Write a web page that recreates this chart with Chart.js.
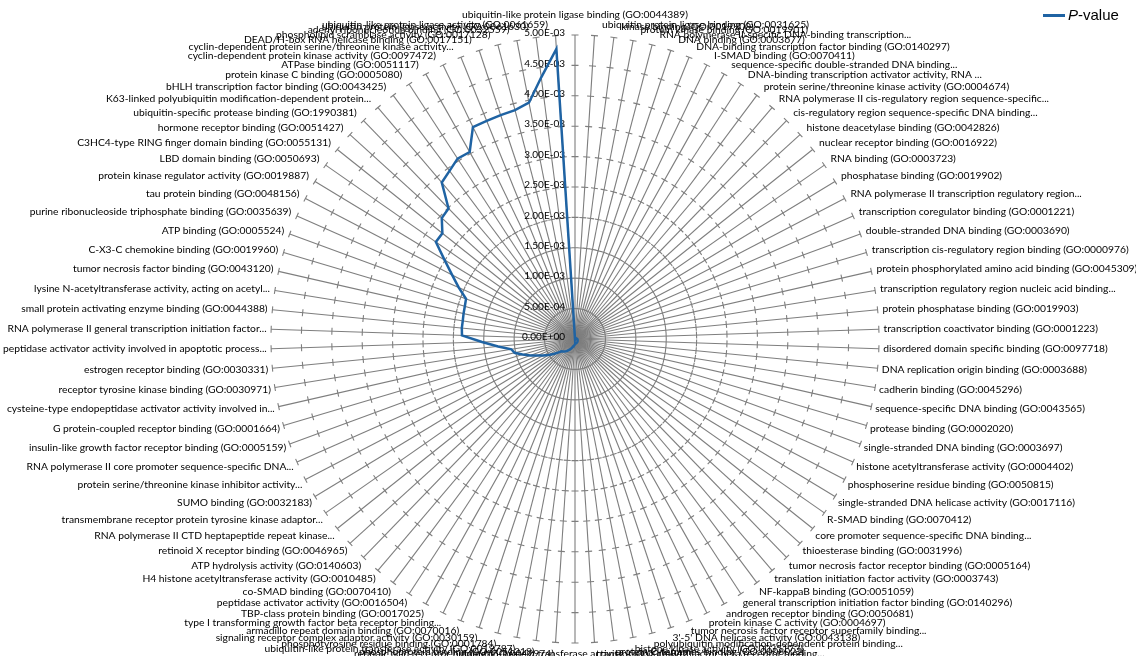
<!DOCTYPE html>
<html>
<head>
<meta charset="utf-8">
<script src="https://cdn.jsdelivr.net/npm/chart.js@4/dist/chart.umd.min.js"></script>
<style>
  html, body { margin: 0; padding: 0; background: #ffffff; }
  #wrap { position: relative; width: 1136px; height: 656px; overflow: hidden; }
  #c { position: absolute; left: 0; top: 0; }
  #legend { position: absolute; left: 1043px; top: 6px; display: flex; align-items: center;
            font: 15px "Liberation Sans", Arial, sans-serif; color: #000; line-height: 18px; }
  #legend .swatch { display: inline-block; width: 22px; height: 3px; background: #1f63a3; margin-right: 3px; }
</style>
</head>
<body>
<div id="wrap">
  <canvas id="c" width="1136" height="656"></canvas>
  <div id="legend"><span class="swatch"></span><span><i>P</i>-value</span></div>
</div>
<script>
// GO molecular-function terms, clockwise from the top spoke
const categories = [
  "ubiquitin-like protein ligase binding (GO:0044389)",
  "ubiquitin protein ligase binding (GO:0031625)",
  "kinase binding (GO:0019900)",
  "protein kinase binding (GO:0019901)",
  "RNA polymerase II-specific DNA-binding transcription...",
  "DNA binding (GO:0003677)",
  "DNA-binding transcription factor binding (GO:0140297)",
  "I-SMAD binding (GO:0070411)",
  "sequence-specific double-stranded DNA binding...",
  "DNA-binding transcription activator activity, RNA ...",
  "protein serine/threonine kinase activity (GO:0004674)",
  "RNA polymerase II cis-regulatory region sequence-specific...",
  "cis-regulatory region sequence-specific DNA binding...",
  "histone deacetylase binding (GO:0042826)",
  "nuclear receptor binding (GO:0016922)",
  "RNA binding (GO:0003723)",
  "phosphatase binding (GO:0019902)",
  "RNA polymerase II transcription regulatory region...",
  "transcription coregulator binding (GO:0001221)",
  "double-stranded DNA binding (GO:0003690)",
  "transcription cis-regulatory region binding (GO:0000976)",
  "protein phosphorylated amino acid binding (GO:0045309)",
  "transcription regulatory region nucleic acid binding...",
  "protein phosphatase binding (GO:0019903)",
  "transcription coactivator binding (GO:0001223)",
  "disordered domain specific binding (GO:0097718)",
  "DNA replication origin binding (GO:0003688)",
  "cadherin binding (GO:0045296)",
  "sequence-specific DNA binding (GO:0043565)",
  "protease binding (GO:0002020)",
  "single-stranded DNA binding (GO:0003697)",
  "histone acetyltransferase activity (GO:0004402)",
  "phosphoserine residue binding (GO:0050815)",
  "single-stranded DNA helicase activity (GO:0017116)",
  "R-SMAD binding (GO:0070412)",
  "core promoter sequence-specific DNA binding...",
  "thioesterase binding (GO:0031996)",
  "tumor necrosis factor receptor binding (GO:0005164)",
  "translation initiation factor activity (GO:0003743)",
  "NF-kappaB binding (GO:0051059)",
  "general transcription initiation factor binding (GO:0140296)",
  "androgen receptor binding (GO:0050681)",
  "protein kinase C activity (GO:0004697)",
  "tumor necrosis factor receptor superfamily binding...",
  "3'-5' DNA helicase activity (GO:0043138)",
  "polyubiquitin modification-dependent protein binding...",
  "histone kinase activity (GO:0035173)",
  "protein C-terminus binding (GO:0008022)",
  "transforming growth factor beta receptor binding...",
  "ubiquitin-protein transferase activity (GO:0004842)",
  "retinoic acid receptor binding (GO:0042974)",
  "phosphoprotein binding (GO:0051219)",
  "ubiquitin-like protein transferase activity (GO:0019787)",
  "phosphotyrosine residue binding (GO:0001784)",
  "signaling receptor complex adaptor activity (GO:0030159)",
  "armadillo repeat domain binding (GO:0070016)",
  "type I transforming growth factor beta receptor binding...",
  "TBP-class protein binding (GO:0017025)",
  "peptidase activator activity (GO:0016504)",
  "co-SMAD binding (GO:0070410)",
  "H4 histone acetyltransferase activity (GO:0010485)",
  "ATP hydrolysis activity (GO:0140603)",
  "retinoid X receptor binding (GO:0046965)",
  "RNA polymerase II CTD heptapeptide repeat kinase...",
  "transmembrane receptor protein tyrosine kinase adaptor...",
  "SUMO binding (GO:0032183)",
  "protein serine/threonine kinase inhibitor activity...",
  "RNA polymerase II core promoter sequence-specific DNA...",
  "insulin-like growth factor receptor binding (GO:0005159)",
  "G protein-coupled receptor binding (GO:0001664)",
  "cysteine-type endopeptidase activator activity involved in...",
  "receptor tyrosine kinase binding (GO:0030971)",
  "estrogen receptor binding (GO:0030331)",
  "peptidase activator activity involved in apoptotic process...",
  "RNA polymerase II general transcription initiation factor...",
  "small protein activating enzyme binding (GO:0044388)",
  "lysine N-acetyltransferase activity, acting on acetyl...",
  "tumor necrosis factor binding (GO:0043120)",
  "C-X3-C chemokine binding (GO:0019960)",
  "ATP binding (GO:0005524)",
  "purine ribonucleoside triphosphate binding (GO:0035639)",
  "tau protein binding (GO:0048156)",
  "protein kinase regulator activity (GO:0019887)",
  "LBD domain binding (GO:0050693)",
  "C3HC4-type RING finger domain binding (GO:0055131)",
  "hormone receptor binding (GO:0051427)",
  "ubiquitin-specific protease binding (GO:1990381)",
  "K63-linked polyubiquitin modification-dependent protein...",
  "bHLH transcription factor binding (GO:0043425)",
  "protein kinase C binding (GO:0005080)",
  "ATPase binding (GO:0051117)",
  "cyclin-dependent protein kinase activity (GO:0097472)",
  "cyclin-dependent protein serine/threonine kinase activity...",
  "DEAD/H-box RNA helicase binding (GO:0017151)",
  "phospholipid scramblase activity (GO:0017128)",
  "adenyl ribonucleotide binding (GO:0032559)",
  "ubiquitin protein ligase activity (GO:0061630)",
  "ubiquitin-like protein ligase activity (GO:0061659)"
];

// enrichment P-values, same order as the terms
const pValues = [
  0.0000010, 0.0000015, 0.0000020, 0.0000030, 0.0000040, 0.0000050, 0.0000060, 0.0000080, 0.0000090, 0.0000110,
  0.0000120, 0.0000140, 0.0000150, 0.0000170, 0.0000180, 0.0000200, 0.0000220, 0.0000230, 0.0000250, 0.0000270,
  0.0000280, 0.0000300, 0.0000320, 0.0000330, 0.0000350, 0.0000370, 0.0000380, 0.0000400, 0.0000420, 0.0000440,
  0.0000450, 0.0000470, 0.0000490, 0.0000510, 0.0000530, 0.0000540, 0.0000560, 0.0000580, 0.0000600, 0.0000620,
  0.0000640, 0.0000660, 0.0000680, 0.0000700, 0.0000720, 0.0000740, 0.0000760, 0.0000780, 0.0000800, 0.0000850,
  0.0000950, 0.0001050, 0.0001150, 0.0001300, 0.0001500, 0.0001700, 0.0001900, 0.0002100, 0.0002300, 0.0002500,
  0.0002700, 0.0002850, 0.0003000, 0.0003600, 0.0004300, 0.0005100, 0.0005900, 0.0006700, 0.0007800, 0.0009000,
  0.0010200, 0.0010600, 0.0012700, 0.0015300, 0.0018600, 0.0018700, 0.0018700, 0.0018800, 0.0018900, 0.0019100,
  0.0020900, 0.0022800, 0.0025100, 0.0027900, 0.0027900, 0.0029600, 0.0029900, 0.0033800, 0.0034500, 0.0035400,
  0.0035300, 0.0038700, 0.0038700, 0.0038800, 0.0038900, 0.0039600, 0.0043400, 0.0047800
];

// radial axis: range, step and the printed tick labels
const axisMin = 0;
const axisMax = 0.005;
const axisStep = 0.0005;
const tickLabels = ["0.00E+00", "5.00E-04", "1.00E-03", "1.50E-03", "2.00E-03", "2.50E-03",
                    "3.00E-03", "3.50E-03", "4.00E-03", "4.50E-03", "5.00E-03"];

// ---- layout of the polar area ----
const CENTER_X = 575, CENTER_Y = 339, RADIUS = 304;
const LABEL_SIZE = 10.3;
const LABEL_LINE = LABEL_SIZE * 1.2;
const GRID_COLOR = '#7e7e7e';

// radial scale with a fixed centre and radius; category labels sit just outside the spoke ends
class FixedRadialScale extends Chart.RadialLinearScale {
  setCenterPoint() {
    this.xCenter = CENTER_X;
    this.yCenter = CENTER_Y;
    this.drawingArea = RADIUS;
  }
  fit() {
    super.fit();
    const items = this._pointLabelItems || [];
    items.forEach((it, i) => {
      const a = this.getIndexAngle(i);
      const c = Math.cos(a);
      const end = this.getPointPosition(i, this.drawingArea);
      const cy = i === 0 ? end.y - 20 : end.y - 11 * c;
      const gap = 4.5 + 3 * c;
      const w = it.right - it.left;
      let x = end.x;
      if (it.textAlign === 'left') x += gap;
      else if (it.textAlign === 'right') x -= gap;
      it.x = x;
      it.y = cy - LABEL_LINE / 2;
      it.top = it.y;
      it.bottom = it.y + LABEL_LINE;
      it.left = it.textAlign === 'left' ? x : (it.textAlign === 'right' ? x - w : x - w / 2);
      it.right = it.left + w;
    });
  }
}
FixedRadialScale.id = 'fixedRadial';
Chart.register(FixedRadialScale);

// short cross marks on every spoke at each major unit
const spokeTicks = {
  id: 'spokeTicks',
  beforeDatasetsDraw(chart) {
    const s = chart.scales.r;
    const ctx = chart.ctx;
    const n = chart.data.labels.length;
    ctx.save();
    ctx.strokeStyle = GRID_COLOR;
    ctx.lineWidth = 1.1;
    ctx.beginPath();
    s.ticks.forEach(t => {
      const d = s.getDistanceFromCenterForValue(t.value);
      if (d <= 0) return;
      for (let i = 0; i < n; i++) {
        const p = s.getPointPosition(i, d);
        const a = s.getIndexAngle(i) - Math.PI / 2;
        const px = -Math.sin(a), py = Math.cos(a);
        ctx.moveTo(p.x - px * 3.5, p.y - py * 3.5);
        ctx.lineTo(p.x + px * 3.5, p.y + py * 3.5);
      }
    });
    ctx.stroke();
    ctx.restore();
  }
};

// value labels along the vertical axis, including the one at the centre
const axisLabels = {
  id: 'axisLabels',
  beforeDatasetsDraw(chart) {
    const s = chart.scales.r;
    const ctx = chart.ctx;
    ctx.save();
    ctx.font = '10px Lato, "Liberation Sans", sans-serif';
    ctx.fillStyle = '#000';
    ctx.textAlign = 'right';
    ctx.textBaseline = 'middle';
    s.ticks.forEach((t, i) => {
      const d = s.getDistanceFromCenterForValue(t.value);
      ctx.fillText(tickLabels[i], s.xCenter - 10, s.yCenter - d - 2);
    });
    ctx.restore();
  }
};

new Chart(document.getElementById('c'), {
  type: 'radar',
  data: {
    labels: categories,
    datasets: [{
      label: 'P-value',
      data: pValues,
      borderColor: '#1f63a3',
      backgroundColor: 'rgba(0,0,0,0)',
      borderWidth: 2.5,
      pointRadius: 0,
      fill: false,
      tension: 0
    }]
  },
  options: {
    responsive: false,
    animation: false,
    devicePixelRatio: 1,
    layout: { padding: 0 },
    plugins: { legend: { display: false }, tooltip: { enabled: false } },
    scales: {
      r: {
        type: 'fixedRadial',
        min: axisMin,
        max: axisMax,
        ticks: { stepSize: axisStep, display: false },
        grid: { display: false },
        angleLines: { display: true, color: GRID_COLOR, lineWidth: 1.1 },
        pointLabels: {
          display: true,
          color: '#000',
          padding: 4,
          font: { family: 'Lato, "Liberation Sans", sans-serif', size: LABEL_SIZE, lineHeight: 1.2 }
        }
      }
    }
  },
  plugins: [spokeTicks, axisLabels]
});
</script>
</body>
</html>
